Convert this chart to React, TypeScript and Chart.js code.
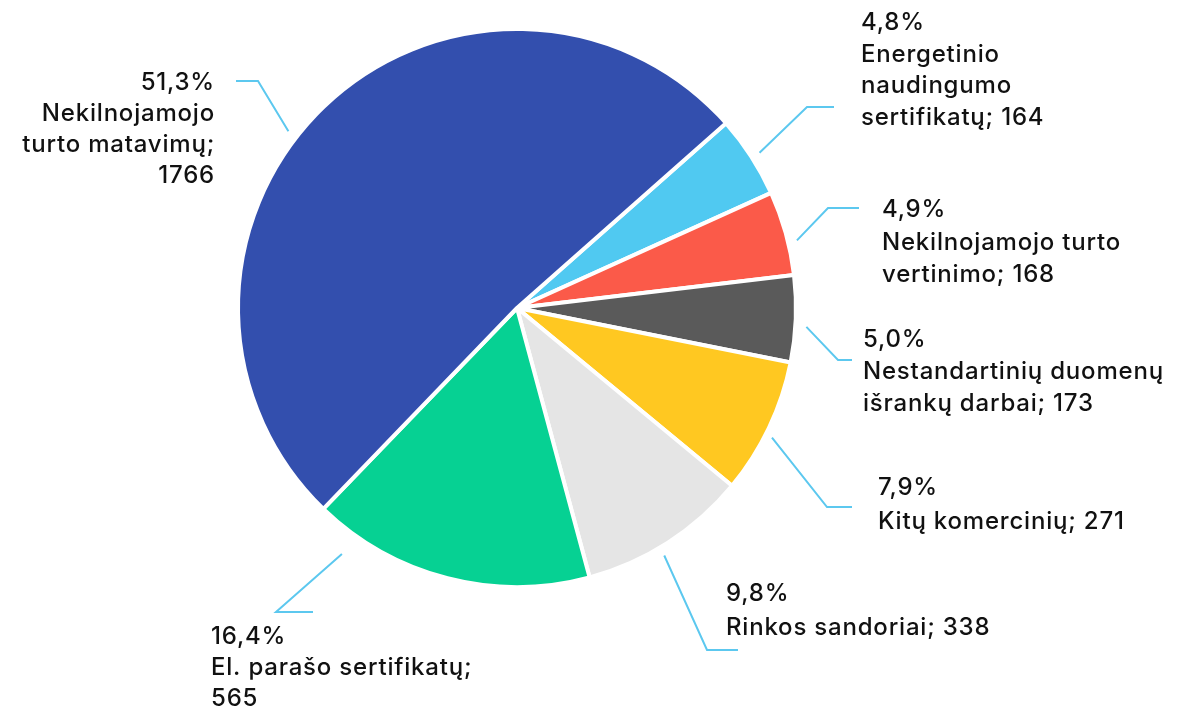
import React, { useEffect, useRef } from 'react';
import { Chart, registerables } from 'chart.js';
Chart.register(...registerables);

const categories = [
  'Energetinio naudingumo sertifikatų',
  'Nekilnojamojo turto vertinimo',
  'Nestandartinių duomenų išrankų darbai',
  'Kitų komercinių',
  'Rinkos sandoriai',
  'El. parašo sertifikatų',
  'Nekilnojamojo turto matavimų',
];
const values = [164, 168, 173, 271, 338, 565, 1766];
const colors = ['#50c9f1', '#fb5a49', '#5a5a5a', '#ffc821', '#e5e5e5', '#06d193', '#334fae'];
// how each label is wrapped ({v} = value)
const labelWrap = [
  ['Energetinio', 'naudingumo', 'sertifikatų; {v}'],
  ['Nekilnojamojo turto', 'vertinimo; {v}'],
  ['Nestandartinių duomenų', 'išrankų darbai; {v}'],
  ['Kitų komercinių; {v}'],
  ['Rinkos sandoriai; {v}'],
  ['El. parašo sertifikatų;', '{v}'],
  ['Nekilnojamojo', 'turto matavimų;', '{v}'],
];

// label layout (positions of callouts)
const labelLayout = [
  { da: 0.3, gap: 9, elbow: [807, 107], end: [834, 107], tx: 861, top: 13, align: 'left', lh: 31.5 },
  { da: 2, gap: 9, elbow: [828, 208], end: [859, 208], tx: 882, top: 200, align: 'left', lh: 32.5 },
  { da: 1.5, gap: 11, elbow: [838, 360], end: [852, 360], tx: 863, top: 330, align: 'left', lh: 32 },
  { da: 1.5, gap: 7, elbow: [827, 507], end: [852, 507], tx: 878, top: 478, align: 'left', lh: 34 },
  { da: 2, gap: 9, elbow: [707, 650], end: [738, 650], tx: 726, top: 584, align: 'left', lh: 34 },
  { da: 21, gap: 23, elbow: [276, 612], end: [313, 612], tx: 211, top: 627, align: 'left', lh: 31 },
  { da: -8.5, gap: 10, elbow: [258, 81], end: [236, 81], tx: 215, top: 73, align: 'right', lh: 31 },
];

const FONT_SIZE = 24;
const FONT = `500 ${FONT_SIZE}px Inter`;
const LETTER_SPACING = '0.8px';
const LEADER = '#5cc8ef';

const calloutPlugin = {
  id: 'callouts',
  afterDraw(chart: any) {
    const ctx = chart.ctx;
    const meta = chart.getDatasetMeta(0);
    const total = values.reduce((a, b) => a + b, 0);
    ctx.save();
    meta.data.forEach((arc: any, i: number) => {
      const p = arc.getProps(['x', 'y', 'startAngle', 'endAngle', 'outerRadius'], true);
      const L = labelLayout[i];
      const a = (p.startAngle + p.endAngle) / 2 + (L.da * Math.PI) / 180;
      const r = p.outerRadius + L.gap;
      const sx = p.x + r * Math.cos(a);
      const sy = p.y + r * Math.sin(a);
      ctx.strokeStyle = LEADER;
      ctx.lineWidth = 2;
      ctx.beginPath();
      ctx.moveTo(sx, sy);
      ctx.lineTo(L.elbow[0], L.elbow[1]);
      ctx.lineTo(L.end[0], L.end[1]);
      ctx.stroke();

      const pct = ((values[i] / total) * 100).toFixed(1).replace('.', ',') + '%';
      const lines = [pct, ...labelWrap[i].map((s) => s.replace('{v}', String(values[i])))];
      ctx.font = FONT;
      (ctx as any).letterSpacing = LETTER_SPACING;
      ctx.fillStyle = '#111111';
      ctx.textAlign = L.align;
      ctx.textBaseline = 'alphabetic';
      lines.forEach((ln, k) => {
        ctx.fillText(ln, L.tx, L.top + FONT_SIZE * 0.72 + k * L.lh);
      });
    });
    ctx.restore();
  },
};

export default function App() {
  const ref = useRef<HTMLCanvasElement>(null);
  useEffect(() => {
    if (!ref.current) return;
    const chart = new Chart(ref.current, {
      type: 'pie',
      data: {
        labels: categories,
        datasets: [
          {
            data: values,
            backgroundColor: colors,
            borderColor: '#ffffff',
            borderWidth: 4,
          },
        ],
      },
      options: {
        animation: false,
        responsive: true,
        maintainAspectRatio: false,
        rotation: 48.5,
        layout: { padding: { left: 236, right: 390, top: 27, bottom: 123 } },
        plugins: { legend: { display: false }, tooltip: { enabled: false } },
      },
      plugins: [calloutPlugin],
    });
    return () => chart.destroy();
  }, []);
  return (
    <div style={{ position: 'fixed', left: 0, top: 0, width: 1188, height: 712, background: '#fff' }}>
      <canvas ref={ref} />
    </div>
  );
}
